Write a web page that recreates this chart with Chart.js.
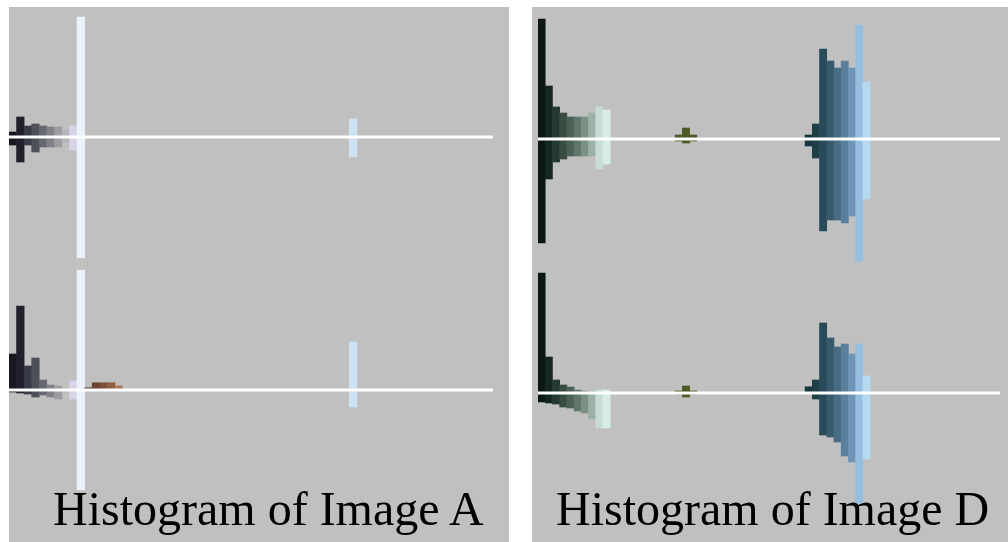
<!DOCTYPE html>
<html>
<head>
<meta charset="utf-8">
<script src="https://cdn.jsdelivr.net/npm/chart.js@4.4.1/dist/chart.umd.min.js"></script>
<style>
html,body{margin:0;padding:0;background:#fff;width:1008px;height:542px;overflow:hidden;}
.panel{position:absolute;background:#c0c0c0;}
.box{position:absolute;}
.cap{position:absolute;font-family:"Liberation Serif","Times New Roman",serif;font-size:48px;line-height:48px;color:#000;white-space:nowrap;}
</style>
</head>
<body>
<div class="panel" style="left:9px;top:7px;width:500px;height:535px;"></div>
<div class="panel" style="left:532px;top:7px;width:476px;height:535px;"></div>
<div class="box" style="left:9px;top:13px;width:484px;height:248px;"><canvas id="aU"></canvas></div>
<div class="box" style="left:9px;top:266px;width:484px;height:248px;"><canvas id="aL"></canvas></div>
<div class="box" style="left:538px;top:15px;width:462px;height:248px;"><canvas id="dU"></canvas></div>
<div class="box" style="left:538px;top:269px;width:462px;height:248px;"><canvas id="dL"></canvas></div>
<div class="cap" style="left:53px;top:485px;">Histogram of Image A</div>
<div class="cap" style="left:556px;top:485px;">Histogram of Image D</div>
<script>
// 64 colour bins (index 0..63)
const bins = Array.from({length:64}, (_, i) => String(i));

// bin colours per image (unused bins left transparent)
const colorsA = {0:'#181822',1:'#20202c',2:'#383a46',3:'#4e5059',4:'#66686f',5:'#818288',6:'#9c9da3',7:'#b3b3b9',8:'#d8d3e8',9:'#eaf2fb',
  10:'#5c3a2a',11:'#6e4430',12:'#7e5038',13:'#8e5e44',14:'#a87a5c',45:'#cfe1f4'};
const colorsD = {0:'#0a1812',1:'#142820',2:'#243a30',3:'#384c42',4:'#4c6156',5:'#62776b',6:'#7c9084',7:'#9db2a6',8:'#c6dcd4',9:'#d9ede8',
  19:'#4b5a22',20:'#4b5a22',21:'#4b5a22',
  37:'#183640',38:'#1e3e48',39:'#284a5a',40:'#385a6c',41:'#486c82',42:'#5a809e',43:'#6e94b6',44:'#95bee0',45:'#b5daf0'};

// Image A, upper histogram (values above / below the line)
const aUpperUp   = {0:5,1:20,2:11,3:13,4:11,5:10,6:10,7:7,8:11,9:120,45:18};
const aUpperDown = {0:8,1:25,2:8,3:15,4:10,5:10,6:10,7:5,8:13,9:121,45:20};
// Image A, lower histogram
const aLowerUp   = {0:36,1:84,2:24,3:32,4:10,5:5,6:4,7:2,8:9,9:120,10:2,11:7,12:7,13:7,14:4,45:48};
const aLowerDown = {0:2,1:3,2:4,3:7,4:5,5:7,6:9,7:2,8:9,9:100,45:17};
// Image D, upper histogram
const dUpperUp   = {0:120,1:53,2:32,3:26,4:22,5:22,6:22,7:26,8:32,9:29,19:4,20:11,21:4,37:4,38:15,39:90,40:78,41:71,42:78,43:71,44:114,45:57};
const dUpperDown = {0:104,1:40,2:23,3:20,4:17,5:17,6:17,7:17,8:30,9:25,19:2,20:4,21:2,37:7,38:19,39:92,40:81,41:81,42:84,43:77,44:122,45:60};
// Image D, lower histogram
const dLowerUp   = {0:120,1:36,2:13,3:8,4:6,5:3,6:2,7:1,8:3,9:3,19:2,20:7,21:2,37:6,38:13,39:70,40:55,41:46,42:49,43:39,44:49,45:17};
const dLowerDown = {0:9,1:10,2:11,3:14,4:15,5:18,6:20,7:26,8:35,9:35,19:1,20:4,21:1,37:0,38:6,39:42,40:44,41:49,42:63,43:69,44:110,45:66};

const Y_MAX = 124;

function series(obj, sign){ return bins.map((_, i) => (obj[i] || 0) * sign); }
function cols(obj){ return bins.map((_, i) => obj[i] || 'rgba(0,0,0,0)'); }

const baseline = {
  id:'baseline',
  afterDatasetsDraw(chart){
    const {ctx, chartArea, scales} = chart;
    const y = scales.y.getPixelForValue(0);
    ctx.save();
    ctx.strokeStyle = '#ffffff';
    ctx.lineWidth = 3;
    ctx.beginPath();
    ctx.moveTo(chartArea.left, y);
    ctx.lineTo(chartArea.right, y);
    ctx.stroke();
    ctx.restore();
  }
};

function make(id, up, down, colors){
  const c = cols(colors);
  new Chart(document.getElementById(id), {
    type:'bar',
    data:{
      labels: bins,
      datasets:[
        {data: series(up, 1), backgroundColor: c, borderWidth:0, barPercentage:1, categoryPercentage:1},
        {data: series(down, -1), backgroundColor: c, borderWidth:0, barPercentage:1, categoryPercentage:1}
      ]
    },
    options:{
      responsive:true, maintainAspectRatio:false, animation:false,
      layout:{padding:0},
      plugins:{legend:{display:false}, tooltip:{enabled:false}},
      scales:{
        x:{display:false, stacked:true},
        y:{display:false, stacked:true, min:-Y_MAX, max:Y_MAX}
      }
    },
    plugins:[baseline]
  });
}

make('aU', aUpperUp, aUpperDown, colorsA);
make('aL', aLowerUp, aLowerDown, colorsA);
make('dU', dUpperUp, dUpperDown, colorsD);
make('dL', dLowerUp, dLowerDown, colorsD);
</script>
</body>
</html>
